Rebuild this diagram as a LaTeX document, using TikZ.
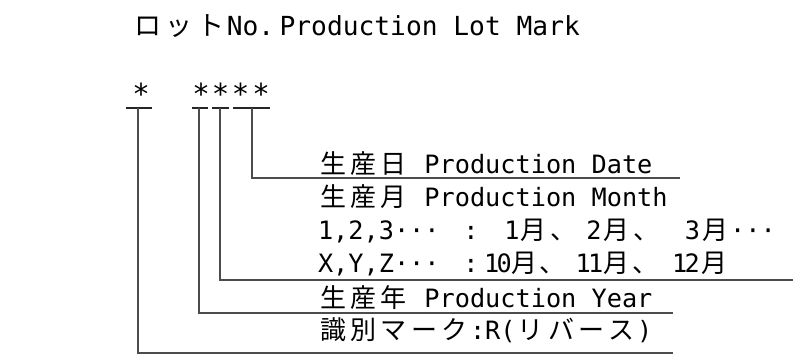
\documentclass[tikz,border=0pt]{standalone}
\usepackage{fontspec}
\setmainfont{DejaVu Sans Mono}
\newfontfamily\jpf{Noto Sans CJK JP}
\newcommand\zk[1]{\makebox[30.4pt][c]{\jpf\fontsize{26}{30}\selectfont #1}}
\newcommand\zt[1]{\makebox[31.6pt][c]{\jpf\fontsize{27}{30}\selectfont #1}}
\begin{document}
\begin{tikzpicture}[x=1pt,y=-1pt,
  txt/.style={inner sep=0pt, outer sep=0pt, anchor=base west, font=\fontsize{25.25}{30}\selectfont},
  txtc/.style={txt, anchor=base},
  ttl/.style={txt, font=\fontsize{26.25}{30}\selectfont},
  ast/.style={inner sep=0pt, outer sep=0pt, anchor=center, font=\fontsize{29}{32}\selectfont},
  uline/.style={draw=black!85, line width=1.1pt},
  conn/.style={draw=black!70, line width=1.2pt}]
\useasboundingbox (0,0) rectangle (795,361);
% title
\node[ttl] (title) at (132,36) {\zt{ロ}\zt{ッ}\zt{ト}No.{\fontsize{9}{9}\selectfont\ }Production Lot Mark};
% asterisks
\node[ast] (s1) at (141,94) {*};
\node[ast] (s2) at (201,94) {*};
\node[ast] (s3) at (220.5,94) {*};
\node[ast] (s4) at (240.5,94) {*};
\node[ast] (s5) at (261,94) {*};
% short underlines below asterisks
\draw[uline] (126,108) -- (152,108);
\draw[uline] (192,108) -- (208,108);
\draw[uline] (212,108) -- (229,108);
\draw[uline] (233,108) -- (270,108);
% text lines
\node[txt] (l1) at (318,173) {\zk{生}\zk{産}\zk{日} Production Date};
\node[txt] (l2) at (318,206) {\zk{生}\zk{産}\zk{月} Production Month};
\node[txt] (l3) at (318,239) {1,2,3···};
\node[txtc] (l3c) at (471,239) {:};
\node[txtc] (l3d1) at (512,239) {1};
\node[txtc] (l3m1) at (533,239) {\zk{月}};
\node[txtc] (l3k1) at (563,239) {\zk{、}};
\node[txtc] (l3d2) at (594,239) {2};
\node[txtc] (l3m2) at (616,239) {\zk{月}};
\node[txtc] (l3k2) at (646,239) {\zk{、}};
\node[txtc] (l3d3) at (692.5,239) {3};
\node[txtc] (l3m3) at (715,239) {\zk{月}};
\node[txtc] (l3e) at (753,239) {···};
\node[txt] (l4) at (318,272) {X,Y,Z···};
\node[txtc] (l4c) at (471,272) {:};
\node[txtc] (l4d1) at (498,272) {1\kern-2.8pt0};
\node[txtc] (l4m1) at (524,272) {\zk{月}};
\node[txtc] (l4k1) at (552,272) {\zk{、}};
\node[txtc] (l4d2) at (589.5,272) {1\kern-2.8pt1};
\node[txtc] (l4m2) at (616,272) {\zk{月}};
\node[txtc] (l4k2) at (645,272) {\zk{、}};
\node[txtc] (l4d3) at (686,272) {1\kern-2.8pt2};
\node[txtc] (l4m3) at (714,272) {\zk{月}};
\node[txt] (l5) at (318,307) {\zk{生}\zk{産}\zk{年} Production Year};
\node[txt] (l6) at (318,339) {\zk{識}\zk{別}\zk{マ}\zk{ー}\zk{ク}:R(\zk{リ}\zk{バ}\zk{ー}\zk{ス})};
% connectors
\coordinate (u1) at (138,108);
\coordinate (u2) at (199,108);
\coordinate (u3) at (220,108);
\coordinate (u4) at (252,108);
\coordinate (e1) at (673,353);
\coordinate (e2) at (673,313);
\coordinate (e3) at (793,280);
\coordinate (e4) at (680,178);
\draw[conn] (u1) |- (e1);
\draw[conn] (u2) |- (e2);
\draw[conn] (u3) |- (e3);
\draw[conn] (u4) |- (e4);
\end{tikzpicture}
\end{document}
